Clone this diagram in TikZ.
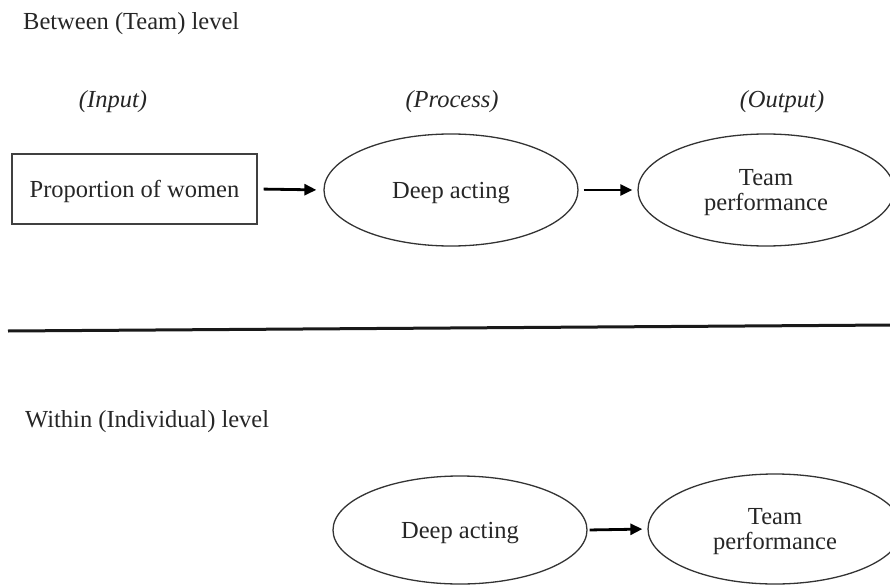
\documentclass[tikz,border=0pt]{standalone}
\usepackage{fontspec}
\setmainfont{Liberation Serif}
\usetikzlibrary{shapes.geometric,arrows.meta}
\begin{document}
\begin{tikzpicture}[x=1pt,y=-1pt,
  txt/.style={font=\fontsize{24.5}{25.5}\selectfont, text=black!85},
  lbl/.style={txt, anchor=base west, inner sep=0},
  ital/.style={txt, font=\fontsize{24.5}{25.5}\selectfont\itshape, anchor=base, inner sep=0},
  boxnode/.style={txt, draw=black!75, line width=1.4pt, rectangle, minimum width=245pt, minimum height=70pt, inner sep=0, text depth=0pt},
  ellnode/.style={txt, draw=black!80, line width=1.3pt, ellipse, minimum width=254pt, minimum height=112pt, inner sep=0, align=center, text depth=0pt},
  arr/.style={line width=2.8pt, -{Triangle[length=12pt,width=11pt]}}
]
\useasboundingbox (0,0) rectangle (890,585);
\clip (0,0) rectangle (890,585);

\node[lbl] (between) at (23,30) {Between (Team) level};
\node[ital] (input) at (113,108) {(Input)};
\node[ital] (process) at (452,108) {(Process)};
\node[ital] (output) at (782,108) {(Output)};

\node[boxnode] (prop) at (134.5,189) {Proportion of women};
\node[ellnode] (deep1) at (451,190) {Deep acting};
\node[ellnode, minimum width=256pt] (team1) at (766,190) {Team\\performance};

\draw[arr, shorten <=6pt, shorten >=7pt] (prop.east) -- (deep1.west);
\draw[arr, shorten <=5pt, shorten >=5pt] (deep1.east) -- (team1.west);

\coordinate (lineL) at (8,331);
\coordinate (lineR) at (892,325);
\draw[line width=3pt, black!90] (lineL) -- (lineR);

\node[lbl] (within) at (25,427) {Within (Individual) level};

\node[ellnode, minimum height=108pt] (deep2) at (460,530) {Deep acting};
\node[ellnode, minimum height=110pt] (team2) at (775,529) {Team\\performance};
\draw[arr, shorten <=2pt, shorten >=5pt] (deep2.east) -- (team2.west);
\end{tikzpicture}
\end{document}
